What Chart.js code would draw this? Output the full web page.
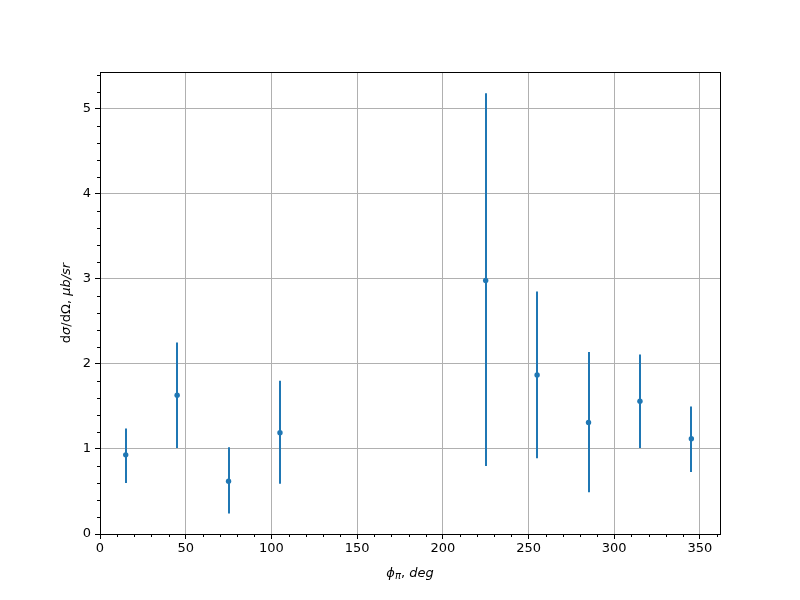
<!DOCTYPE html>
<html>
<head>
<meta charset="utf-8">
<script src="https://cdn.jsdelivr.net/npm/chart.js@4.4.1/dist/chart.umd.min.js"></script>
<style>
  html, body { margin: 0; padding: 0; background: #fff; }
  #wrap { width: 800px; height: 600px; }
</style>
</head>
<body>
<div id="wrap"><canvas id="chart" width="800" height="600"></canvas></div>
<script>
// data
const phi = [15, 45, 75, 105, 225, 255, 285, 315, 345];
const xsec = [0.93, 1.63, 0.62, 1.19, 2.98, 1.87, 1.31, 1.56, 1.12];
const errLow = [0.60, 1.01, 0.24, 0.59, 0.80, 0.89, 0.49, 1.01, 0.73];
const errHigh = [1.24, 2.25, 1.02, 1.80, 5.18, 2.85, 2.14, 2.11, 1.50];
const xTicks = [0, 50, 100, 150, 200, 250, 300, 350];
const yTicks = [0, 1, 2, 3, 4, 5];

const blue = '#1f77b4';
const tickFont = { family: 'DejaVu Sans', size: 13 };

const errorBars = {
  id: 'errorBars',
  afterDatasetsDraw(chart) {
    const ctx = chart.ctx, x = chart.scales.x, y = chart.scales.y;
    ctx.save();
    ctx.strokeStyle = blue;
    ctx.lineWidth = 2;
    phi.forEach((p, i) => {
      const px = Math.round(x.getPixelForValue(p));
      ctx.beginPath();
      ctx.moveTo(px, y.getPixelForValue(errLow[i]));
      ctx.lineTo(px, y.getPixelForValue(errHigh[i]));
      ctx.stroke();
    });
    ctx.restore();
  }
};

const frame = {
  id: 'frame',
  afterDraw(chart) {
    const ctx = chart.ctx, a = chart.chartArea, x = chart.scales.x, y = chart.scales.y;
    ctx.save();
    ctx.strokeStyle = '#000';
    ctx.lineWidth = 1;
    ctx.strokeRect(Math.round(a.left) + 0.5, Math.round(a.top) + 0.5,
      Math.round(a.right - a.left), Math.round(a.bottom - a.top));
    // minor ticks
    ctx.beginPath();
    for (let v = 10; v < x.max; v += 10) {
      if (v % 50 === 0) continue;
      const px = Math.round(x.getPixelForValue(v)) + 0.5;
      ctx.moveTo(px, a.bottom);
      ctx.lineTo(px, a.bottom + 3);
    }
    for (let v = 0.2; v < y.max; v += 0.2) {
      if (Math.abs(v - Math.round(v)) < 1e-6) continue;
      const py = Math.round(y.getPixelForValue(v)) + 0.5;
      ctx.moveTo(a.left, py);
      ctx.lineTo(a.left - 3, py);
    }
    ctx.stroke();

    // axis labels
    ctx.fillStyle = '#000';
    ctx.textBaseline = 'alphabetic';
    // x label: phi_pi, deg
    const cx = (a.left + a.right) / 2, by = 577;
    const parts = [
      ['italic 13px DejaVu Sans', '\u03d5', 0],
      ['italic 10px DejaVu Sans', '\u03c0', 2],
      ['13px DejaVu Sans', ', ', 0],
      ['italic 13px DejaVu Sans', 'deg', 0]
    ];
    let w = 0;
    parts.forEach(p => { ctx.font = p[0]; w += ctx.measureText(p[1]).width; });
    let xx = cx - w / 2;
    ctx.textAlign = 'left';
    parts.forEach(p => { ctx.font = p[0]; ctx.fillText(p[1], xx, by + p[2]); xx += ctx.measureText(p[1]).width; });

    // y label
    ctx.translate(70, (a.top + a.bottom) / 2);
    ctx.rotate(-Math.PI / 2);
    const yparts = [
      ['13px DejaVu Sans', 'd'],
      ['italic 13px DejaVu Sans', '\u03c3'],
      ['13px DejaVu Sans', '/d\u03a9, '],
      ['italic 13px DejaVu Sans', '\u03bcb/sr']
    ];
    w = 0;
    yparts.forEach(p => { ctx.font = p[0]; w += ctx.measureText(p[1]).width; });
    xx = -w / 2;
    yparts.forEach(p => { ctx.font = p[0]; ctx.fillText(p[1], xx, 0); xx += ctx.measureText(p[1]).width; });
    ctx.restore();
  }
};

new Chart(document.getElementById('chart').getContext('2d'), {
  type: 'scatter',
  data: {
    datasets: [{
      data: phi.map((p, i) => ({ x: p, y: xsec[i] })),
      backgroundColor: blue,
      borderColor: blue,
      pointRadius: 2.7,
      pointBorderWidth: 0,
      order: 0
    }]
  },
  options: {
    responsive: false,
    animation: false,
    layout: { padding: { top: 72, right: 80, left: 0, bottom: 0 } },
    plugins: { legend: { display: false }, tooltip: { enabled: false } },
    scales: {
      x: {
        type: 'linear',
        min: 0,
        max: 361.7,
        afterBuildTicks: s => { s.ticks = xTicks.map(v => ({ value: v })); },
        afterFit: s => { s.height = 66; },
        ticks: { color: '#000', font: tickFont, padding: 2, maxRotation: 0 },
        grid: { color: '#b0b0b0', tickColor: '#000', tickLength: 5, drawOnChartArea: true },
        border: { display: false }
      },
      y: {
        type: 'linear',
        min: 0,
        max: 5.43,
        afterBuildTicks: s => { s.ticks = yTicks.map(v => ({ value: v })); },
        afterFit: s => { s.width = 100; },
        ticks: { color: '#000', font: tickFont, padding: 4 },
        grid: { color: '#b0b0b0', tickColor: '#000', tickLength: 5 },
        border: { display: false }
      }
    }
  },
  plugins: [errorBars, frame]
});
</script>
</body>
</html>
